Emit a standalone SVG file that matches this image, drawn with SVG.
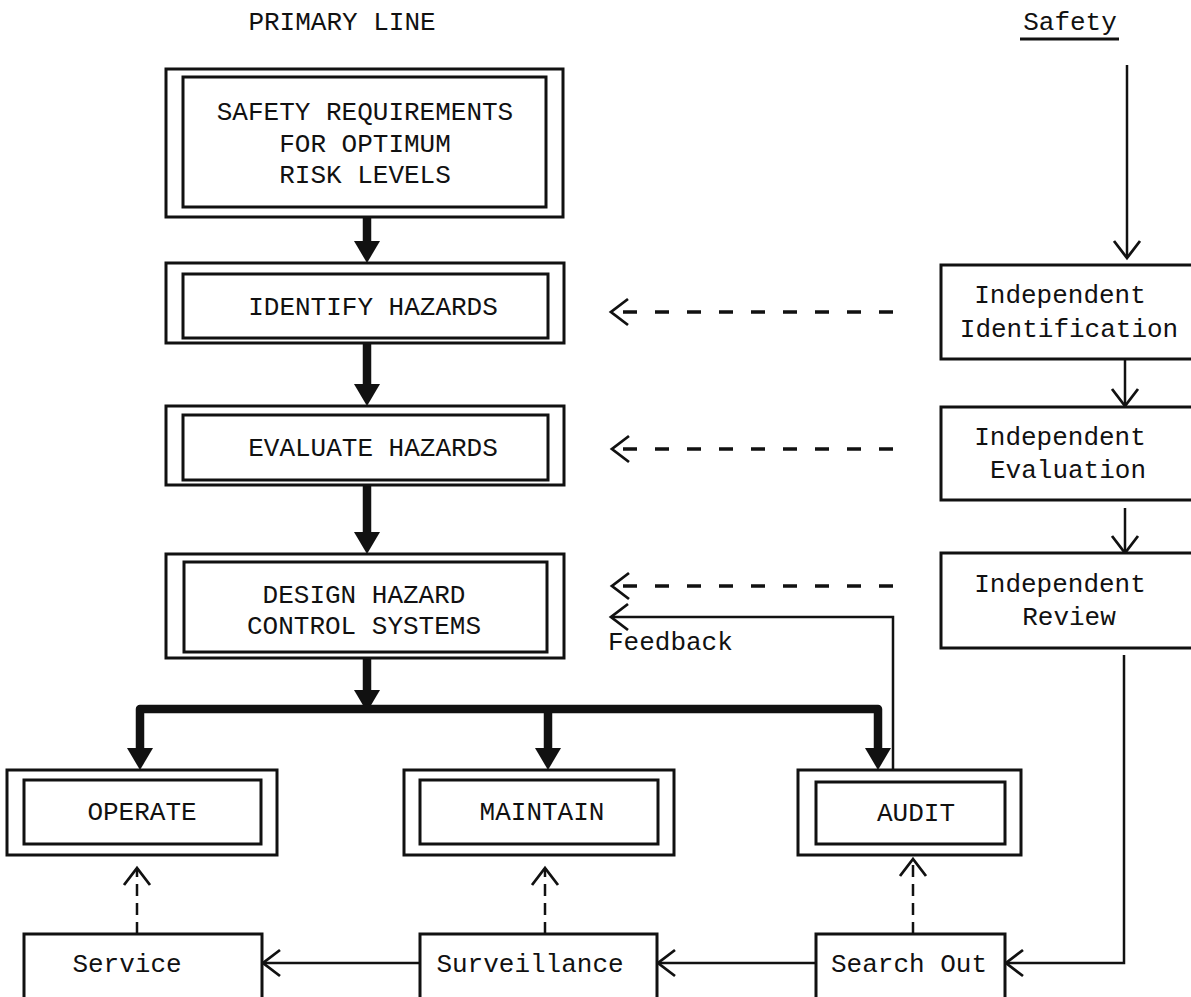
<svg xmlns="http://www.w3.org/2000/svg" width="1191" height="997" viewBox="0 0 1191 997">
  <style>
    .t { font-family: "Liberation Mono", "DejaVu Sans Mono", monospace; font-size: 26px; fill: #111; }
    .c { text-anchor: middle; }
    .frame { fill: #fff; stroke: #111; stroke-width: 3; }
    .inner { fill: none; stroke: #111; stroke-width: 3; }
    .box { fill: #fff; stroke: #111; stroke-width: 3; }
    .main { fill: none; stroke: #111; stroke-width: 8.5; stroke-linejoin: round; }
    .thin { fill: none; stroke: #111; stroke-width: 2.5; }
    .dash { fill: none; stroke: #111; stroke-width: 3.5; stroke-dasharray: 14 18; }
    .vdash { fill: none; stroke: #111; stroke-width: 2.5; stroke-dasharray: 12 7; }
  </style>
  <defs>
    <!-- solid wedge head for the primary flow -->
    <marker id="heavy" markerUnits="userSpaceOnUse" viewBox="0 0 22 26" markerWidth="22" markerHeight="26" refX="8" refY="13" orient="auto-start-reverse">
      <path d="M0,0 L22,13 L0,26 z" fill="#111"/>
    </marker>
    <!-- open chevron head for the thin and dashed lines -->
    <marker id="open" markerUnits="userSpaceOnUse" viewBox="-2 -2 22 30" markerWidth="22" markerHeight="30" refX="17" refY="13" orient="auto">
      <path d="M0,0 L17,13 L0,26" fill="none" stroke="#111" stroke-width="2.8" stroke-linejoin="miter"/>
    </marker>
  </defs>

  <rect width="1191" height="997" fill="#fff"/>

  <!-- column headings -->
  <g id="heading-primary">
    <text class="t c" x="342" y="30">PRIMARY LINE</text>
  </g>
  <g id="heading-safety">
    <text class="t c" x="1070" y="30">Safety</text>
    <line x1="1020" y1="39" x2="1119" y2="39" stroke="#111" stroke-width="3"/>
  </g>

  <!-- connectors -->
  <g id="connectors">
    <!-- primary line, heavy arrows -->
    <path class="main" d="M367,217 L367,249" marker-end="url(#heavy)"/>
    <path class="main" d="M367,343 L367,392" marker-end="url(#heavy)"/>
    <path class="main" d="M367,485 L367,540" marker-end="url(#heavy)"/>
    <path class="main" d="M367,658 L367,698" marker-end="url(#heavy)"/>
    <path class="main" d="M140,756 L140,709 L878,709 L878,756" marker-start="url(#heavy)" marker-end="url(#heavy)"/>
    <path class="main" d="M548,709 L548,756" marker-end="url(#heavy)"/>

    <!-- safety column -->
    <path class="thin" d="M1127,65 L1127,258" marker-end="url(#open)"/>
    <path class="thin" d="M1125,359 L1125,406" marker-end="url(#open)"/>
    <path class="thin" d="M1125,508 L1125,553" marker-end="url(#open)"/>
    <path class="thin" d="M1124,655 L1124,963 L1006,963" marker-end="url(#open)"/>

    <!-- independent checks feeding the primary line -->
    <path class="dash" d="M893,312 L611,312" marker-end="url(#open)"/>
    <path class="dash" d="M893,449 L612,449" marker-end="url(#open)"/>
    <path class="dash" d="M893,586 L612,586" marker-end="url(#open)"/>

    <!-- feedback from audit -->
    <path class="thin" d="M893,770 L893,617 L611,617" marker-end="url(#open)"/>

    <!-- bottom row -->
    <path class="thin" d="M816,963 L658,963" marker-end="url(#open)"/>
    <path class="thin" d="M420,963 L263,963" marker-end="url(#open)"/>
    <path class="vdash" d="M137,934 L137,868" marker-end="url(#open)"/>
    <path class="vdash" d="M545,934 L545,868" marker-end="url(#open)"/>
    <path class="vdash" d="M913,934 L913,859" marker-end="url(#open)"/>
  </g>

  <!-- primary line nodes (double frames) -->
  <g id="safety-requirements">
    <rect class="frame" x="166" y="69" width="397" height="148"/>
    <rect class="inner" x="183" y="77" width="363" height="130"/>
    <text class="t c" x="365" y="120">SAFETY REQUIREMENTS</text>
    <text class="t c" x="365" y="152">FOR OPTIMUM</text>
    <text class="t c" x="365" y="183">RISK LEVELS</text>
  </g>
  <g id="identify-hazards">
    <rect class="frame" x="166" y="263" width="398" height="80"/>
    <rect class="inner" x="183" y="274" width="365" height="64"/>
    <text class="t c" x="373" y="315">IDENTIFY HAZARDS</text>
  </g>
  <g id="evaluate-hazards">
    <rect class="frame" x="166" y="406" width="398" height="79"/>
    <rect class="inner" x="183" y="415" width="365" height="65"/>
    <text class="t c" x="373" y="456">EVALUATE HAZARDS</text>
  </g>
  <g id="design-controls">
    <rect class="frame" x="166" y="554" width="398" height="104"/>
    <rect class="inner" x="184" y="562" width="363" height="90"/>
    <text class="t c" x="364" y="603">DESIGN HAZARD</text>
    <text class="t c" x="364" y="634">CONTROL SYSTEMS</text>
  </g>
  <g id="operate">
    <rect class="frame" x="7" y="770" width="270" height="85"/>
    <rect class="inner" x="24" y="780" width="237" height="64"/>
    <text class="t c" x="142" y="820">OPERATE</text>
  </g>
  <g id="maintain">
    <rect class="frame" x="404" y="770" width="270" height="85"/>
    <rect class="inner" x="420" y="780" width="238" height="64"/>
    <text class="t c" x="542" y="820">MAINTAIN</text>
  </g>
  <g id="audit">
    <rect class="frame" x="798" y="770" width="223" height="85"/>
    <rect class="inner" x="816" y="782" width="189" height="62"/>
    <text class="t c" x="916" y="821">AUDIT</text>
  </g>

  <!-- safety column nodes -->
  <g id="independent-identification">
    <rect class="box" x="941" y="265" width="260" height="94"/>
    <text class="t c" x="1060" y="303">Independent</text>
    <text class="t c" x="1069" y="337">Identification</text>
  </g>
  <g id="independent-evaluation">
    <rect class="box" x="941" y="407" width="260" height="93"/>
    <text class="t c" x="1060" y="445">Independent</text>
    <text class="t c" x="1068" y="478">Evaluation</text>
  </g>
  <g id="independent-review">
    <rect class="box" x="941" y="553" width="260" height="95"/>
    <text class="t c" x="1060" y="592">Independent</text>
    <text class="t c" x="1069" y="625">Review</text>
  </g>

  <!-- bottom row nodes -->
  <g id="service">
    <rect class="box" x="24" y="934" width="238" height="70"/>
    <text class="t c" x="127" y="972">Service</text>
  </g>
  <g id="surveillance">
    <rect class="box" x="420" y="934" width="237" height="70"/>
    <text class="t c" x="530" y="972">Surveillance</text>
  </g>
  <g id="search-out">
    <rect class="box" x="816" y="934" width="189" height="70"/>
    <text class="t c" x="909" y="972">Search Out</text>
  </g>

  <g id="feedback-label">
    <text class="t" x="608" y="650">Feedback</text>
  </g>
</svg>
